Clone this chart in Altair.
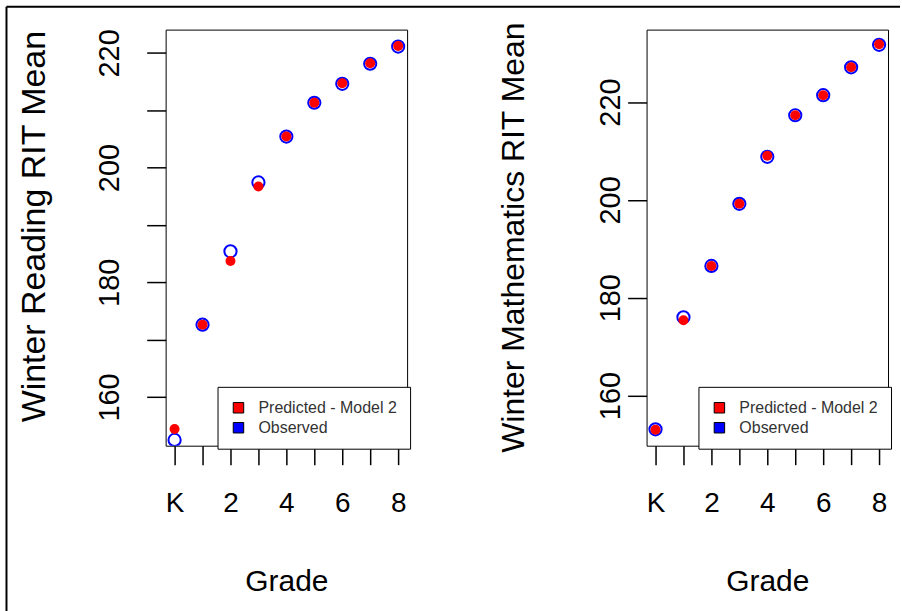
import altair as alt
import pandas as pd

# ---- data ----
grades = [0, 1, 2, 3, 4, 5, 6, 7, 8]          # 0 = K
grade_names = ["K", "1", "2", "3", "4", "5", "6", "7", "8"]
reading_observed = [152.5, 172.6, 185.4, 197.4, 205.4, 211.3, 214.6, 218.1, 221.1]
reading_predicted = [154.4, 172.6, 183.7, 196.7, 205.4, 211.3, 214.7, 218.2, 221.2]
math_observed = [153.1, 176.0, 186.5, 199.2, 208.8, 217.3, 221.4, 227.1, 231.7]
math_predicted = [153.0, 175.4, 186.5, 199.2, 209.0, 217.3, 221.4, 227.1, 231.8]
series_names = ["Predicted - Model 2", "Observed"]
series_colors = ["#ff0000", "#0000ff"]

FONT = "Liberation Sans"
W, H = 242, 417


def panel(obs, pred, ytitle, ydomain, yticks, ylabel_step, ylab_pad, ytitle_x,
          ytitle_y, ytitle_size, legend_x, border=False):
    d_obs = pd.DataFrame({"grade": grades, "value": obs, "series": series_names[1]})
    d_pred = pd.DataFrame({"grade": grades, "value": pred, "series": series_names[0]})

    x = alt.X(
        "grade:Q",
        scale=alt.Scale(domain=[-0.32, 8.32], nice=False, zero=False),
        axis=alt.Axis(
            values=grades,
            format="d",
            labelExpr="datum.value == 0 ? 'K' : (datum.value % 2 == 0 ? datum.label : '')",
            title="Grade",
            titleY=136,
            titleBaseline="middle",
            labelPadding=39,
            labelBaseline="middle",
            labelFontSize=28,
        ),
    )
    y = alt.Y(
        "value:Q",
        scale=alt.Scale(domain=ydomain, nice=False, zero=False),
        axis=alt.Axis(
            values=yticks,
            format="d",
            labelExpr=f"datum.value % {ylabel_step} == 0 ? datum.label : ''",
            labelAngle=-90,
            labelAlign="center",
            labelBaseline="middle",
            labelPadding=ylab_pad,
            labelFontSize=29,
            title=ytitle,
            titleX=ytitle_x,
            titleY=ytitle_y,
            titleAngle=-90,
            titleBaseline="middle",
            titleAlign="center",
            titleFontSize=ytitle_size,
        ),
    )

    observed = alt.Chart(d_obs).mark_point(
        shape="circle", filled=False, color=series_colors[1], size=150,
        strokeWidth=2, opacity=1, clip=True
    ).encode(x=x, y=y)

    predicted = alt.Chart(d_pred).mark_circle(size=100, opacity=1, clip=True).encode(
        x=x,
        y=y,
        color=alt.Color(
            "series:N",
            scale=alt.Scale(domain=series_names, range=series_colors),
            legend=alt.Legend(
                title=None,
                orient="none",
                legendX=legend_x,
                legendY=358,
                symbolType="square",
                symbolSize=110,
                symbolStrokeColor="black",
                symbolStrokeWidth=1,
                symbolOpacity=1,
                labelFont=FONT,
                labelFontSize=16,
                labelColor="#333333",
                labelOffset=12,
                strokeColor="black",
                fillColor="white",
                padding=13,
                rowPadding=4,
                cornerRadius=0,
            ),
        ),
    )

    layers = [observed, predicted]
    if border:
        one = pd.DataFrame({"k": [0]})
        vline = alt.Chart(one).mark_rule(color="black", strokeWidth=2).encode(
            x=alt.value(-159.5), y=alt.value(-23), y2=alt.value(590)
        )
        hline = alt.Chart(one).mark_rule(color="black", strokeWidth=2).encode(
            x=alt.value(-159.5), x2=alt.value(736), y=alt.value(-23)
        )
        layers = [vline, hline] + layers

    return alt.layer(*layers).properties(width=W, height=H)


left = panel(reading_observed, reading_predicted, "Winter Reading RIT Mean",
             [151.5, 224.05], list(range(160, 221, 10)), 20, 37, -131, 197, 34, 52,
             border=True)
right = panel(math_observed, math_predicted, "Winter Mathematics RIT Mean",
              [149.75, 234.8], [160, 180, 200, 220], 20, 17, -133, 208, 32, 52)

chart = (
    alt.hconcat(left, right, spacing=240, bounds="flush")
    .resolve_scale(color="independent")
    .properties(padding={"left": 5, "top": 4, "right": 0, "bottom": 0}, background="white")
    .configure_view(stroke="black", strokeWidth=1)
    .configure_axis(
        grid=False,
        domain=False,
        ticks=True,
        tickSize=19,
        tickColor="black",
        tickWidth=1.5,
        labelFont=FONT,
        labelColor="black",
        titleFont=FONT,
        titleFontSize=30,
        titleFontWeight="normal",
        titleColor="black",
    )
)

chart.save("out.html", embed_options={"renderer": "svg", "actions": False})
